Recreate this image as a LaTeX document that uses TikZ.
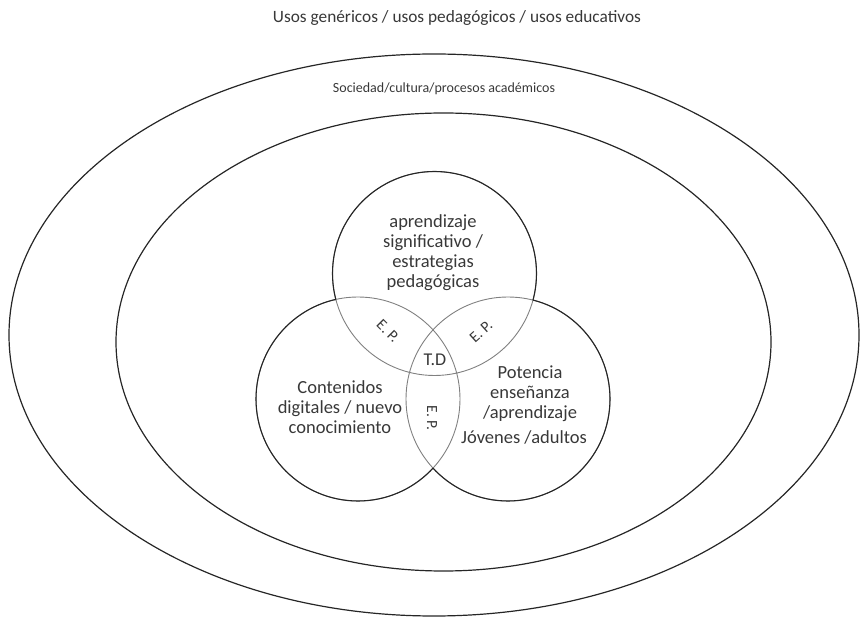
\documentclass[tikz,border=0pt]{standalone}
\usepackage{fontspec}
\setmainfont{Carlito}
\begin{document}
\begin{tikzpicture}[x=1pt,y=-1pt,
  ring/.style={draw=black!85, line width=1.2pt},
  venn/.style={draw=black!85, line width=1.1pt},
  overlap/.style={draw=black!50, line width=0.9pt},
  txt/.style={text=black!78, align=center, inner sep=0pt},
  body/.style={txt, font=\fontsize{18.5}{20}\selectfont},
  ep/.style={txt, font=\fontsize{15.5}{17}\selectfont}
]
\useasboundingbox (0,0) rectangle (863,617);

% enclosing rings
\draw[ring] (434,335) ellipse [x radius=425, y radius=281];
\draw[ring] (443.5,342) ellipse [x radius=327.5, y radius=229];

\node[txt, font=\fontsize{17.3}{20}\selectfont] (title) at (457,18)
  {Usos genéricos / usos pedagógicos / usos educativos};
\node[txt, font=\fontsize{14}{16}\selectfont] (soc) at (444,89)
  {Sociedad/cultura/procesos académicos};

% Venn circles
\def\rad{102}
\coordinate (top) at (434.5,273.5);
\coordinate (lft) at (358,399);
\coordinate (rgt) at (508,399);

% all outlines in grey first
\draw[overlap] (top) circle (\rad) (lft) circle (\rad) (rgt) circle (\rad);

% outer parts of each circle in black
\begin{scope}[even odd rule]
  \clip (-10,-10) rectangle (873,627) (lft) circle (\rad);
  \clip (-10,-10) rectangle (873,627) (rgt) circle (\rad);
  \draw[venn] (top) circle (\rad);
\end{scope}
\begin{scope}[even odd rule]
  \clip (-10,-10) rectangle (873,627) (top) circle (\rad);
  \clip (-10,-10) rectangle (873,627) (rgt) circle (\rad);
  \draw[venn] (lft) circle (\rad);
\end{scope}
\begin{scope}[even odd rule]
  \clip (-10,-10) rectangle (873,627) (top) circle (\rad);
  \clip (-10,-10) rectangle (873,627) (lft) circle (\rad);
  \draw[venn] (rgt) circle (\rad);
\end{scope}

% circle labels
\node[body] (aprend) at (433,253)
  {aprendizaje\\significativo /\\estrategias\\pedagógicas};
\node[body] (conten) at (340,407)
  {Contenidos\\digitales / nuevo\\conocimiento};
\node[body] (potenc) at (530,394)
  {Potencia\\enseñanza\\/aprendizaje};
\node[body] (joven) at (524,437) {Jóvenes /adultos};

% intersections
\node[txt, font=\fontsize{18}{20}\selectfont] (td) at (435,360) {T.D};
\node[ep, rotate=-45] (ep1) at (388,331) {E. P.};
\node[ep, rotate=42] (ep2) at (481,332) {E. P.};
\node[ep, rotate=-90] (ep3) at (432,418) {E. P.};
\end{tikzpicture}
\end{document}
